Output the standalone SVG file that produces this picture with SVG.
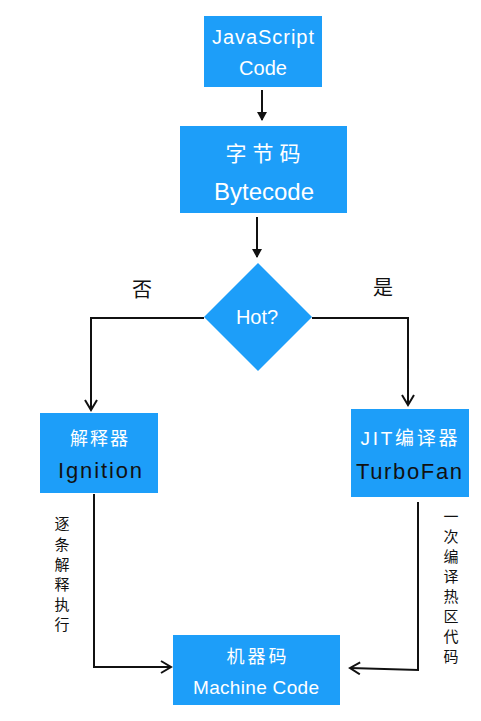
<svg xmlns="http://www.w3.org/2000/svg" width="481" height="721" viewBox="0 0 481 721">
<style>
.box{fill:#1d9ef9;}
.t{font-family:"Liberation Sans","Noto Sans CJK SC",sans-serif;text-anchor:middle;}
.w{fill:#ffffff;}
.k{fill:#111111;}
.ln{fill:none;stroke:#111;stroke-width:2;}
</style>
<defs>
<marker id="tri" markerWidth="10" markerHeight="10" refX="8" refY="5" orient="auto" markerUnits="userSpaceOnUse">
<path d="M0,0 L9,5 L0,10 Z" fill="#111"/>
</marker>
<marker id="chev" markerWidth="14" markerHeight="14" refX="11" refY="7" orient="auto" markerUnits="userSpaceOnUse">
<path d="M1,1 L11,7 L1,13" fill="none" stroke="#111" stroke-width="2"/>
</marker>
</defs>
<rect width="481" height="721" fill="#ffffff"/>
<g id="connectors">
<path class="ln" d="M262,90 L262,120" marker-end="url(#tri)"/>
<path class="ln" d="M257,217 L257,257" marker-end="url(#tri)"/>
<path class="ln" d="M204,318 L91,318 L91,410" marker-end="url(#chev)"/>
<path class="ln" d="M312,318 L408,318 L408,405" marker-end="url(#chev)"/>
<path class="ln" d="M94,494 L94,667 L171,667" marker-end="url(#chev)"/>
<path class="ln" d="M418,502 L418,670 L350,668" marker-end="url(#chev)"/>
</g>
<g id="label-no"><text class="t k" x="142" y="297" font-size="20">否</text></g>
<g id="label-yes"><text class="t k" x="383" y="295" font-size="20">是</text></g>
<g id="js-code">
<rect class="box" x="204" y="16" width="118" height="71"/>
<text class="t w" x="263" y="44" font-size="20" textLength="102">JavaScript</text>
<text class="t w" x="263" y="75" font-size="20">Code</text>
</g>
<g id="bytecode">
<rect class="box" x="180" y="126" width="167" height="87"/>
<text class="t w" x="266" y="161" font-size="21" letter-spacing="6">字节码</text>
<text class="t w" x="264" y="200" font-size="24">Bytecode</text>
</g>
<g id="hot">
<path class="box" d="M258,263 L312,317 L258,371 L204,317 Z"/>
<text class="t w" x="257" y="324" font-size="20">Hot?</text>
</g>
<g id="ignition">
<rect class="box" x="40" y="413" width="118" height="80"/>
<text class="t w" x="100" y="445" font-size="18" letter-spacing="2">解释器</text>
<text class="t k" x="100" y="478" font-size="22" textLength="84">Ignition</text>
</g>
<g id="turbofan">
<rect class="box" x="351" y="409" width="118" height="88"/>
<text class="t w" x="409" y="445" font-size="19" textLength="97">JIT编译器</text>
<text class="t k" x="409" y="479" font-size="22" textLength="106">TurboFan</text>
</g>
<g id="machine-code">
<rect class="box" x="173" y="635" width="167" height="70"/>
<text class="t w" x="258" y="663" font-size="18" letter-spacing="3">机器码</text>
<text class="t w" x="256" y="694" font-size="19" textLength="126">Machine Code</text>
</g>
<g id="label-left">
<text class="t k" font-size="15" x="62" y="529">逐</text>
<text class="t k" font-size="15" x="62" y="550">条</text>
<text class="t k" font-size="15" x="62" y="570">解</text>
<text class="t k" font-size="15" x="62" y="590">释</text>
<text class="t k" font-size="15" x="62" y="610">执</text>
<text class="t k" font-size="15" x="62" y="630">行</text>
</g>
<g id="label-right">
<text class="t k" font-size="15" x="451" y="522">一</text>
<text class="t k" font-size="15" x="451" y="542">次</text>
<text class="t k" font-size="15" x="451" y="562">编</text>
<text class="t k" font-size="15" x="451" y="582">译</text>
<text class="t k" font-size="15" x="451" y="602">热</text>
<text class="t k" font-size="15" x="451" y="622">区</text>
<text class="t k" font-size="15" x="451" y="642">代</text>
<text class="t k" font-size="15" x="451" y="662">码</text>
</g>
</svg>
